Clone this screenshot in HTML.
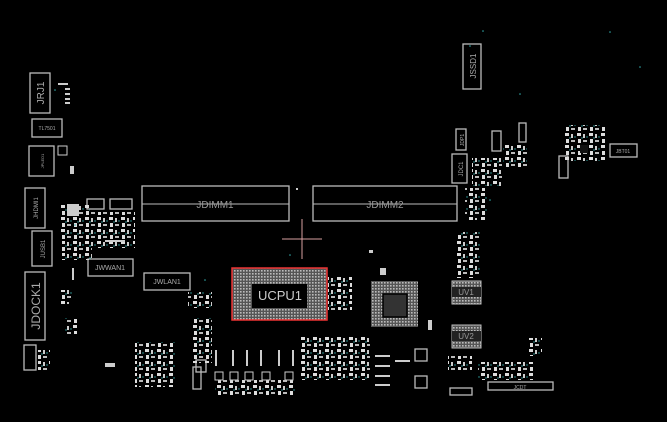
<!DOCTYPE html>
<html><head><meta charset="utf-8"><style>
html,body{margin:0;padding:0;background:#000;}
svg{display:block}
text{font-family:"Liberation Sans",sans-serif;}
</style></head><body>
<svg width="667" height="422" viewBox="0 0 667 422" xmlns="http://www.w3.org/2000/svg">
<defs>
<pattern id="grid" width="3" height="3" patternUnits="userSpaceOnUse"><rect width="3" height="3" fill="#555"/><rect width="1.6" height="1.6" fill="#bbb"/></pattern>
<pattern id="parts" width="12" height="12" patternUnits="userSpaceOnUse">
<rect x="1" y="1" width="4" height="3" fill="#ddd"/><rect x="7" y="2" width="2" height="4" fill="#ccc"/><rect x="2" y="7" width="3" height="4" fill="#ddd"/><rect x="7" y="8" width="4" height="2" fill="#bbb"/><circle cx="6" cy="6" r="0.7" fill="#3aa"/><circle cx="11" cy="5" r="0.7" fill="#3aa"/>
</pattern>
</defs>
<rect width="667" height="422" fill="#000"/>
<g fill="none" stroke="#bbb" stroke-width="1.3">
<rect x="30" y="73" width="20" height="40"/>
<rect x="32" y="119" width="30" height="18"/>
<rect x="29" y="146" width="25" height="30"/>
<rect x="25" y="188" width="20" height="40"/>
<rect x="32" y="231" width="20" height="35"/>
<rect x="25" y="272" width="20" height="68"/>
<rect x="24" y="345" width="12" height="25"/>
<rect x="88" y="259" width="45" height="17"/>
<rect x="144" y="273" width="46" height="17"/>
<rect x="142" y="186" width="147" height="35"/>
<rect x="313" y="186" width="144" height="35"/>
<rect x="463" y="44" width="18" height="45"/>
<rect x="456" y="129" width="10" height="21"/>
<rect x="452" y="154" width="15" height="29"/>
<rect x="492" y="131" width="9" height="20"/>
<rect x="519" y="123" width="7" height="19"/>
<rect x="559" y="156" width="9" height="22"/>
<rect x="610" y="144" width="27" height="13"/>
<rect x="488" y="382" width="65" height="8"/>
<rect x="450" y="388" width="22" height="7"/>
<rect x="87" y="199" width="17" height="10"/>
<rect x="110" y="199" width="22" height="10"/>
<rect x="196" y="360" width="10" height="12"/>
<rect x="415" y="349" width="12" height="12"/>
<rect x="415" y="376" width="12" height="12"/>
<rect x="193" y="367" width="8" height="22"/>
</g>
<g fill="none" stroke="#bbb" stroke-width="1">
<line x1="142" y1="204" x2="289" y2="204"/>
<line x1="313" y1="204" x2="457" y2="204"/>
</g>
<g font-size="10" fill="#999" text-anchor="middle">
<text x="215" y="208">JDIMM1</text>
<text x="385" y="208">JDIMM2</text>
</g>
<g font-size="7" fill="#aaa" text-anchor="middle">
<text x="110" y="270">JWWAN1</text>
<text x="167" y="284">JWLAN1</text>
<text x="47" y="130" font-size="5">TL7501</text>
<text x="623" y="153" font-size="5">JBT01</text>
<text x="520" y="389" font-size="5">JCDT</text>
</g>
<g fill="#aaa" text-anchor="middle">
<text transform="translate(44,93) rotate(-90)" font-size="10">JRJ1</text>
<text transform="translate(44,161) rotate(-90)" font-size="4">JPLED1</text>
<text transform="translate(38,208) rotate(-90)" font-size="6">JHDMI1</text>
<text transform="translate(45,249) rotate(-90)" font-size="6">JUSB1</text>
<text transform="translate(40,306) rotate(-90)" font-size="12">JDOCK1</text>
<text transform="translate(476,66) rotate(-90)" font-size="8">JSSD1</text>
<text transform="translate(464,140) rotate(-90)" font-size="5">JDP1</text>
<text transform="translate(463,169) rotate(-90)" font-size="6">JDC1</text>
</g>
<g stroke="#d9a0a0" stroke-width="1"><line x1="282" y1="239" x2="322" y2="239"/><line x1="302" y1="219" x2="302" y2="259"/></g>
<rect x="232" y="268" width="95" height="52" fill="url(#grid)"/>
<rect x="232" y="268" width="95" height="52" fill="none" stroke="#e33" stroke-width="1.5"/>
<rect x="252" y="284" width="55" height="24" fill="#000"/>
<text x="280" y="300" font-size="13" fill="#ccc" text-anchor="middle">UCPU1</text>
<rect x="371" y="281" width="47" height="46" fill="url(#grid)"/>
<rect x="383" y="294" width="24" height="23" fill="#333" stroke="#000" stroke-width="1.5"/>
<rect x="452" y="281" width="29" height="23" fill="url(#grid)" stroke="#bbb"/>
<rect x="452" y="287" width="29" height="10" fill="#222"/>
<text x="466" y="295" font-size="8" fill="#999" text-anchor="middle">UV1</text>
<rect x="452" y="325" width="29" height="23" fill="url(#grid)" stroke="#bbb"/>
<rect x="452" y="331" width="29" height="10" fill="#222"/>
<text x="466" y="339" font-size="8" fill="#999" text-anchor="middle">UV2</text>
<!-- clustered parts areas -->
<g fill="url(#parts)">
<rect x="60" y="205" width="30" height="30"/><rect x="85" y="212" width="50" height="36"/><rect x="62" y="235" width="30" height="25"/>
<rect x="60" y="290" width="12" height="14"/><rect x="65" y="318" width="12" height="16"/><rect x="38" y="350" width="12" height="20"/>
<rect x="188" y="292" width="24" height="16"/><rect x="192" y="318" width="20" height="45"/>
<rect x="328" y="276" width="24" height="34"/><rect x="300" y="335" width="70" height="45"/>
<rect x="456" y="232" width="24" height="46"/><rect x="465" y="188" width="22" height="32"/>
<rect x="472" y="158" width="30" height="28"/><rect x="503" y="143" width="24" height="24"/>
<rect x="565" y="125" width="40" height="36"/>
<rect x="448" y="356" width="24" height="14"/><rect x="478" y="362" width="55" height="18"/><rect x="528" y="338" width="14" height="18"/>
<rect x="135" y="342" width="40" height="45"/><rect x="215" y="380" width="80" height="16"/>
</g>
<rect x="580" y="145" width="8" height="8" fill="#111"/>
<g fill="#ccc">
<rect x="58" y="83" width="10" height="2"/><rect x="65" y="88" width="5" height="2"/><rect x="65" y="93" width="5" height="2"/><rect x="65" y="98" width="5" height="2"/><rect x="65" y="102" width="5" height="2"/>
<rect x="58" y="146" width="9" height="9" fill="none" stroke="#ccc"/><rect x="70" y="166" width="4" height="8"/><rect x="67" y="204" width="12" height="12"/>
<rect x="105" y="240" width="20" height="2"/><rect x="72" y="268" width="2" height="12"/>
<rect x="105" y="363" width="10" height="4"/>
<rect x="215" y="350" width="2" height="16"/><rect x="232" y="350" width="2" height="16"/><rect x="246" y="350" width="2" height="16"/><rect x="260" y="350" width="2" height="16"/><rect x="278" y="350" width="2" height="16"/><rect x="292" y="350" width="2" height="16"/>
<rect x="215" y="372" width="8" height="8" fill="none" stroke="#ccc"/><rect x="230" y="372" width="8" height="8" fill="none" stroke="#ccc"/><rect x="245" y="372" width="8" height="8" fill="none" stroke="#ccc"/><rect x="262" y="372" width="8" height="8" fill="none" stroke="#ccc"/><rect x="285" y="372" width="8" height="8" fill="none" stroke="#ccc"/>
<rect x="375" y="355" width="15" height="2"/><rect x="375" y="365" width="15" height="2"/><rect x="375" y="375" width="15" height="2"/><rect x="375" y="384" width="15" height="2"/><rect x="395" y="360" width="15" height="2"/>
<rect x="380" y="268" width="6" height="7"/><rect x="428" y="320" width="4" height="10"/>
<rect x="296" y="188" width="2" height="2"/><rect x="369" y="250" width="4" height="3"/>
</g>
<g fill="#3aa">
<circle cx="55" cy="90" r="0.8"/><circle cx="470" cy="46" r="0.8"/><circle cx="483" cy="31" r="0.8"/><circle cx="610" cy="32" r="0.8"/><circle cx="640" cy="67" r="0.8"/><circle cx="520" cy="94" r="0.8"/><circle cx="490" cy="200" r="0.8"/><circle cx="75" cy="225" r="0.8"/><circle cx="205" cy="280" r="0.8"/><circle cx="290" cy="255" r="0.8"/>
</g>
</svg>
</body></html>
